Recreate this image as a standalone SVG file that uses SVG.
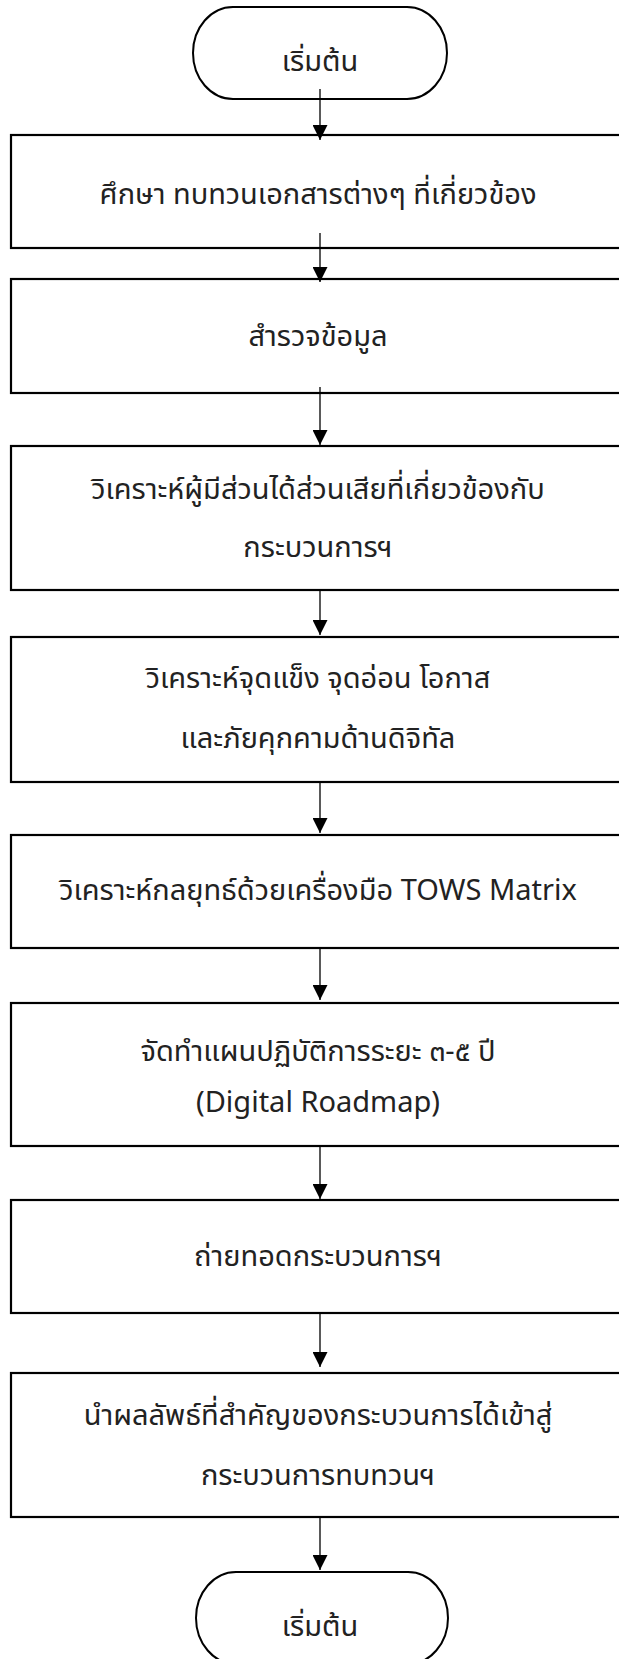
<svg xmlns="http://www.w3.org/2000/svg" width="619" height="1659" viewBox="0 0 619 1659">
<style>
.box{fill:#fff;stroke:#000;stroke-width:2.2}
.term{fill:#fff;stroke:#000;stroke-width:2}
.t{font-family:"Noto Sans Thai","Noto Sans Thai UI","Noto Sans","DejaVu Sans",sans-serif;font-size:29px;fill:#222;text-anchor:middle}
.c{stroke:#000;stroke-width:1.3;fill:none;marker-end:url(#ah)}
</style>
<defs>
<marker id="ah" viewBox="0 0 15 15" refX="15" refY="7.5" markerWidth="15" markerHeight="15" markerUnits="userSpaceOnUse" orient="auto">
<path d="M0,0 L15,7.5 L0,15 Z" fill="#000"/>
</marker>
</defs>
<rect width="619" height="1659" fill="#fff"/>
<g id="start"><rect class="term" x="193" y="7" width="254" height="92" rx="40" ry="46"/><text class="t" x="320" y="71">เริ่มต้น</text></g>
<g id="n1"><rect class="box" x="11" y="135" width="640" height="113"/><text class="t" x="318" y="204">ศึกษา ทบทวนเอกสารต่างๆ ที่เกี่ยวข้อง</text></g>
<g id="n2"><rect class="box" x="11" y="279" width="640" height="114"/><text class="t" x="318" y="346">สำรวจข้อมูล</text></g>
<g id="n3"><rect class="box" x="11" y="446" width="640" height="144"/><text class="t" x="318" y="499">วิเคราะห์ผู้มีส่วนได้ส่วนเสียที่เกี่ยวข้องกับ</text><text class="t" x="318" y="557">กระบวนการฯ</text></g>
<g id="n4"><rect class="box" x="11" y="637" width="640" height="145"/><text class="t" x="318" y="688">วิเคราะห์จุดแข็ง จุดอ่อน โอกาส</text><text class="t" x="318" y="748">และภัยคุกคามด้านดิจิทัล</text></g>
<g id="n5"><rect class="box" x="11" y="835" width="640" height="113"/><text class="t" x="318" y="900">วิเคราะห์กลยุทธ์ด้วยเครื่องมือ TOWS Matrix</text></g>
<g id="n6"><rect class="box" x="11" y="1003" width="640" height="143"/><text class="t" x="318" y="1061">จัดทำแผนปฏิบัติการระยะ ๓-๕ ปี</text><text class="t" x="318" y="1112">(Digital Roadmap)</text></g>
<g id="n7"><rect class="box" x="11" y="1200" width="640" height="113"/><text class="t" x="318" y="1266">ถ่ายทอดกระบวนการฯ</text></g>
<g id="n8"><rect class="box" x="11" y="1373" width="640" height="144"/><text class="t" x="318" y="1425">นำผลลัพธ์ที่สำคัญของกระบวนการได้เข้าสู่</text><text class="t" x="318" y="1485">กระบวนการทบทวนฯ</text></g>
<g id="end"><rect class="term" x="196" y="1572" width="252" height="92" rx="40" ry="46"/><text class="t" x="320" y="1636">เริ่มต้น</text></g>
<g id="connectors">
<path class="c" d="M320,89 V140"/>
<path class="c" d="M320,233 V282"/>
<path class="c" d="M320,387 V445"/>
<path class="c" d="M320,590 V635"/>
<path class="c" d="M320,782 V833"/>
<path class="c" d="M320,948 V1000"/>
<path class="c" d="M320,1146 V1199"/>
<path class="c" d="M320,1313 V1367"/>
<path class="c" d="M320,1517 V1570"/>
</g>
</svg>
